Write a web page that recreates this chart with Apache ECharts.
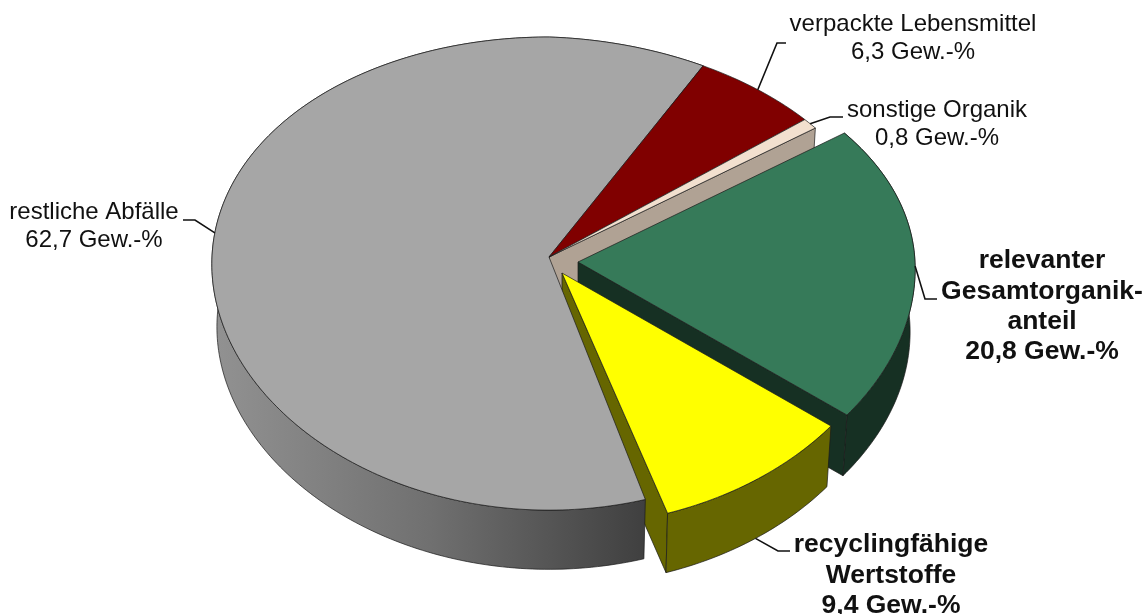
<!DOCTYPE html>
<html><head><meta charset="utf-8">
<style>html,body{margin:0;padding:0;background:#fff}#c{width:1148px;height:614px}</style>
<script src="https://cdn.jsdelivr.net/npm/echarts@6/dist/echarts.min.js"></script>
</head><body><div id="c"></div>
<script>
const categories = ['restliche Abfälle','verpackte Lebensmittel','sonstige Organik','relevanter\nGesamtorganik-\nanteil','recyclingfähige\nWertstoffe'];
const shares = [62.7, 6.3, 0.8, 20.8, 9.4];
const unit = 'Gew.-%';
const topColors = ['#a6a6a6','#800000','#f2e0cf','#367a59','#ffff00'];
const wallColors = ['#666666','#400000','#b0a294','#163023','#666600'];
const explode = [[0,0],[0,0],[0,0],[29,5],[13,16]];
const boldLabel = [false,false,false,true,true];
// label centre x, first-line centre y, leader bend points; leader start is a rim point at slice mid-angle
const labelPos = [[94,212],[913,24],[937,110],[1042,261],[891,545]];
const leaderBend = [[[195,220],[183,220]],[[777,43],[786,43]],[[830,117],[843,117]],[[925,299],[937,299]],[[778,551],[790,551]]];
const leaderOnBottom = [false,false,false,false,true];

const P = {cx:549, cy:257, rx:337, ry:235.4, k:0.07, kx:0.03, sag:11, depth:63, s:0.985, startAngle:-62, grayTrim:1.6};
const total = shares.reduce((a,b)=>a+b,0);
function range(i){ // clockwise screen angles from the start: red, beige, green, yellow, then gray
  let a = P.startAngle;
  const order=[1,2,3,4,0];
  for(const j of order){
    const sweep = shares[j]/total*360;
    if(j===i) return j===0?[a+P.grayTrim,a+sweep]:[a,a+sweep];
    a+=sweep;
  }
}
function pt(i,deg,bottom){
  const t=deg*Math.PI/180,u=Math.cos(t),v=Math.sin(t),w=1-P.k*v,wx=1-P.kx*v;
  const s=bottom?P.s:1;
  const sag=(u>0&&v<0)?P.sag*u*(-v):0;
  return [P.cx+explode[i][0]+s*P.rx*u/wx, P.cy+explode[i][1]+(bottom?P.depth:0)+s*P.ry*v/w+sag];
}
function apex(i,bottom){return [P.cx+explode[i][0],P.cy+explode[i][1]+(bottom?P.depth:0)];}
function arc(i,a,b,bottom){const n=Math.max(2,Math.ceil(Math.abs(b-a)));const r=[];for(let q=0;q<=n;q++)r.push(pt(i,a+(b-a)*q/n,bottom));return r;}
const edge={stroke:'#1a1a1a',lineWidth:0.7};
function poly(points,fill){return {type:'polygon',shape:{points},style:Object.assign({fill},edge)};}
function topFace(i){const [a,b]=range(i);return poly([apex(i,false)].concat(arc(i,a,b,false)),topColors[i]);}
function outerWall(i,fill){const [a,b]=range(i);return poly(arc(i,a,b,false).concat(arc(i,a,b,true).reverse()),fill||wallColors[i]);}
function cutFace(i,deg){return poly([apex(i,false),pt(i,deg,false),pt(i,deg,true),apex(i,true)],wallColors[i]);}
const grayGrad={type:'linear',x:212,y:0,x2:648,y2:0,global:true,colorStops:[{offset:0,color:'#929292'},{offset:0.5,color:'#707070'},{offset:1,color:'#3f3f3f'}]};
const passes=[
  i=> i===2?[cutFace(2,range(2)[1])]:[],
  i=> i===3?[outerWall(3),cutFace(3,range(3)[1])]:i===4?[cutFace(4,range(4)[1]),outerWall(4)]:[],
  i=> i===0?[outerWall(0,grayGrad)]:[],
  i=> i<3?[topFace(i)]:[],
  i=> i>=3?[topFace(i)]:[],
  i=>{
    const [a,b]=range(i);const mid=(a+b)/2;
    const start=pt(i,mid,leaderOnBottom[i]);
    const text=categories[i]+'\n'+String(shares[i]).replace('.',',')+' '+unit;
    const lh=boldLabel[i]?30.3:28;
    return [
      {type:'polyline',shape:{points:[start].concat(leaderBend[i])},style:{fill:'none',stroke:'#111',lineWidth:1.6}},
      {type:'text',x:labelPos[i][0],y:labelPos[i][1]-lh/2,style:{text,fill:'#111',align:'center',verticalAlign:'top',
        fontFamily:'Liberation Sans, Arial, sans-serif',fontSize:boldLabel[i]?26.5:24,fontWeight:boldLabel[i]?'bold':'normal',lineHeight:lh}}
    ];
  }
];
const chart=echarts.init(document.getElementById('c'),null,{renderer:'canvas'});
chart.setOption({
  animation:false,
  backgroundColor:'#fff',
  series:passes.map((fn,p)=>({
    type:'custom',coordinateSystem:'none',silent:true,z:2+p,
    data:shares.map((v,i)=>[v,i]),
    renderItem:(params,api)=>({type:'group',children:fn(api.value(1))})
  }))
});
</script></body></html>
